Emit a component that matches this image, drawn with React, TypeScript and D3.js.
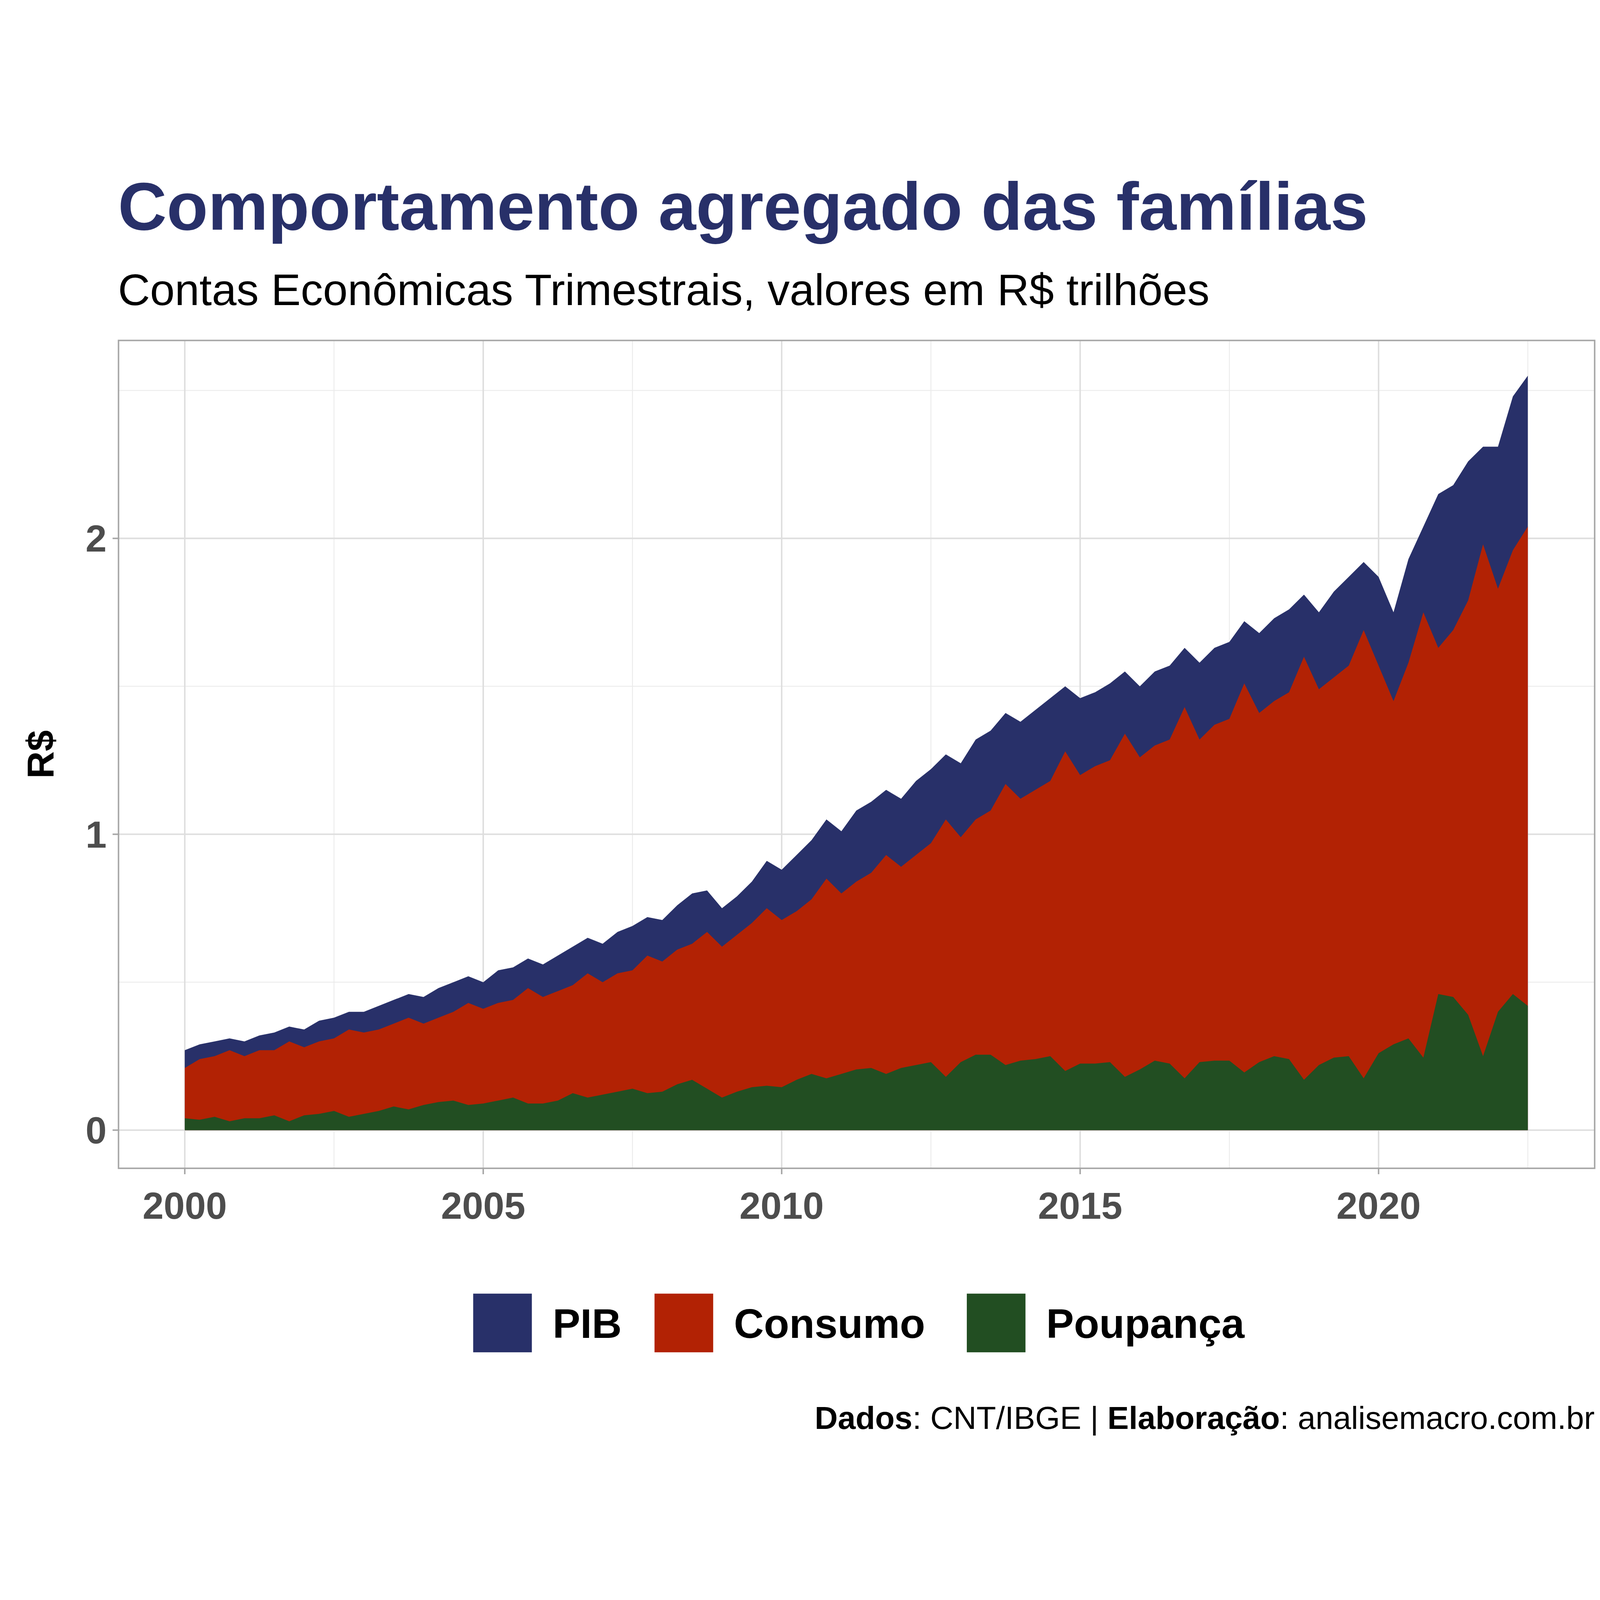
import * as d3 from "d3"

const years = d3.range(2000, 2023)
const pib = [
  0.27, 0.29, 0.30, 0.31, 0.30, 0.32, 0.33, 0.35, 0.34, 0.37, 0.38, 0.40,
  0.40, 0.42, 0.44, 0.46, 0.45, 0.48, 0.50, 0.52, 0.50, 0.54, 0.55, 0.58,
  0.56, 0.59, 0.62, 0.65, 0.63, 0.67, 0.69, 0.72, 0.71, 0.76, 0.80, 0.81,
  0.75, 0.79, 0.84, 0.91, 0.88, 0.93, 0.98, 1.05, 1.01, 1.08, 1.11, 1.15,
  1.12, 1.18, 1.22, 1.27, 1.24, 1.32, 1.35, 1.41, 1.38, 1.42, 1.46, 1.50,
  1.46, 1.48, 1.51, 1.55, 1.50, 1.55, 1.57, 1.63, 1.58, 1.63, 1.65, 1.72,
  1.68, 1.73, 1.76, 1.81, 1.75, 1.82, 1.87, 1.92, 1.87, 1.75, 1.93, 2.04,
  2.15, 2.18, 2.26, 2.31, 2.31, 2.48, 2.55,
]
const consumo = [
  0.21, 0.24, 0.25, 0.27, 0.25, 0.27, 0.27, 0.30, 0.28, 0.30, 0.31, 0.34,
  0.33, 0.34, 0.36, 0.38, 0.36, 0.38, 0.40, 0.43, 0.41, 0.43, 0.44, 0.48,
  0.45, 0.47, 0.49, 0.53, 0.50, 0.53, 0.54, 0.59, 0.57, 0.61, 0.63, 0.67,
  0.62, 0.66, 0.70, 0.75, 0.71, 0.74, 0.78, 0.85, 0.80, 0.84, 0.87, 0.93,
  0.89, 0.93, 0.97, 1.05, 0.99, 1.05, 1.08, 1.17, 1.12, 1.15, 1.18, 1.28,
  1.20, 1.23, 1.25, 1.34, 1.26, 1.30, 1.32, 1.43, 1.32, 1.37, 1.39, 1.51,
  1.41, 1.45, 1.48, 1.60, 1.49, 1.53, 1.57, 1.69, 1.57, 1.45, 1.58, 1.75,
  1.63, 1.69, 1.79, 1.98, 1.83, 1.96, 2.04,
]
const poupanca = [
  0.04, 0.035, 0.045, 0.03, 0.04, 0.04, 0.05, 0.03, 0.05, 0.055, 0.065, 0.045,
  0.055, 0.065, 0.08, 0.07, 0.085, 0.095, 0.10, 0.085, 0.09, 0.10, 0.11, 0.09,
  0.09, 0.10, 0.125, 0.11, 0.12, 0.13, 0.14, 0.125, 0.13, 0.155, 0.17, 0.14,
  0.11, 0.13, 0.145, 0.15, 0.145, 0.17, 0.19, 0.175, 0.19, 0.205, 0.21, 0.19,
  0.21, 0.22, 0.23, 0.18, 0.23, 0.255, 0.255, 0.22, 0.235, 0.24, 0.25, 0.20,
  0.225, 0.225, 0.23, 0.18, 0.205, 0.235, 0.225, 0.175, 0.23, 0.235, 0.235, 0.195,
  0.23, 0.25, 0.24, 0.17, 0.22, 0.245, 0.25, 0.175, 0.26, 0.29, 0.31, 0.245,
  0.46, 0.45, 0.39, 0.25, 0.40, 0.46, 0.42,
]
const quarters = pib.map((_, i) => years[0] + i / 4)
const series = [
  { name: "PIB", values: pib, color: "#283069" },
  { name: "Consumo", values: consumo, color: "#B22204" },
  { name: "Poupança", values: poupanca, color: "#224E22" },
]
const xTicks = [2000, 2005, 2010, 2015, 2020]
const yTicks = [0, 1, 2]

const W = 5400, H = 4320
const L = 400, R = 5382, T = 609, B = 3403
const font = "'Liberation Sans', Arial, sans-serif"

export default function App() {
  const x = d3.scaleLinear().domain([1998.89, 2023.62]).range([L, R])
  const y = d3.scaleLinear().domain([-0.129, 2.669]).range([B, T])
  const area = (vals: number[]) =>
    d3.area<number>().x((_, i) => x(quarters[i])).y0(y(0)).y1((d) => y(d))(vals) || ""
  const xMinor = xTicks.map((t) => t + 2.5).filter((t) => x(t) > L && x(t) < R)
  const yMinor = [0.5, 1.5, 2.5]
  const legendW = [612, 1054, 0]
  let lx = 1597
  return (
    <svg
      viewBox={`0 0 ${W} ${H}`}
      preserveAspectRatio="xMidYMid meet"
      style={{ position: "fixed", top: 0, left: 0, width: "100vw", height: "100vh", display: "block", fontFamily: font, background: "#fff" }}
    >
      <rect width={W} height={H} fill="#fff" />
      <text x={398} y={235} fontSize={228} fontWeight="bold" fill="#283069">Comportamento agregado das famílias</text>
      <text x={398} y={490} fontSize={150} fill="#000">Contas Econômicas Trimestrais, valores em R$ trilhões</text>
      {yMinor.map((t) => <line key={"ym" + t} x1={L} x2={R} y1={y(t)} y2={y(t)} stroke="#ebebeb" strokeWidth={3} />)}
      {xMinor.map((t) => <line key={"xm" + t} y1={T} y2={B} x1={x(t)} x2={x(t)} stroke="#ebebeb" strokeWidth={3} />)}
      {yTicks.map((t) => <line key={"y" + t} x1={L} x2={R} y1={y(t)} y2={y(t)} stroke="#dedede" strokeWidth={5} />)}
      {xTicks.map((t) => <line key={"x" + t} y1={T} y2={B} x1={x(t)} x2={x(t)} stroke="#dedede" strokeWidth={5} />)}
      {series.map((s) => <path key={s.name} d={area(s.values)} fill={s.color} />)}
      <rect x={L} y={T} width={R - L} height={B - T} fill="none" stroke="#a6a6a6" strokeWidth={5} />
      {xTicks.map((t) => (
        <g key={"xt" + t}>
          <line x1={x(t)} x2={x(t)} y1={B} y2={B + 20} stroke="#a6a6a6" strokeWidth={5} />
          <text x={x(t)} y={B + 170} textAnchor="middle" fontSize={128} fontWeight="bold" fill="#4d4d4d">{t}</text>
        </g>
      ))}
      {yTicks.map((t) => (
        <g key={"yt" + t}>
          <line x1={L - 20} x2={L} y1={y(t)} y2={y(t)} stroke="#a6a6a6" strokeWidth={5} />
          <text x={L - 40} y={y(t) + 45} textAnchor="end" fontSize={128} fontWeight="bold" fill="#4d4d4d">{t}</text>
        </g>
      ))}
      <text transform={`translate(180,${(T + B) / 2}) rotate(-90)`} textAnchor="middle" fontSize={128} fontWeight="bold">R$</text>
      {series.map((s, i) => {
        const x0 = lx
        lx += legendW[i]
        return (
          <g key={"lg" + s.name}>
            <rect x={x0} y={3826} width={198} height={198} fill={s.color} />
            <text x={x0 + 268} y={3975} fontSize={140} fontWeight="bold">{s.name}</text>
          </g>
        )
      })}
      <text x={5382} y={4282} textAnchor="end" fontSize={108}>
        <tspan fontWeight="bold">Dados</tspan>: CNT/IBGE | <tspan fontWeight="bold">Elaboração</tspan>: analisemacro.com.br
      </text>
    </svg>
  )
}
